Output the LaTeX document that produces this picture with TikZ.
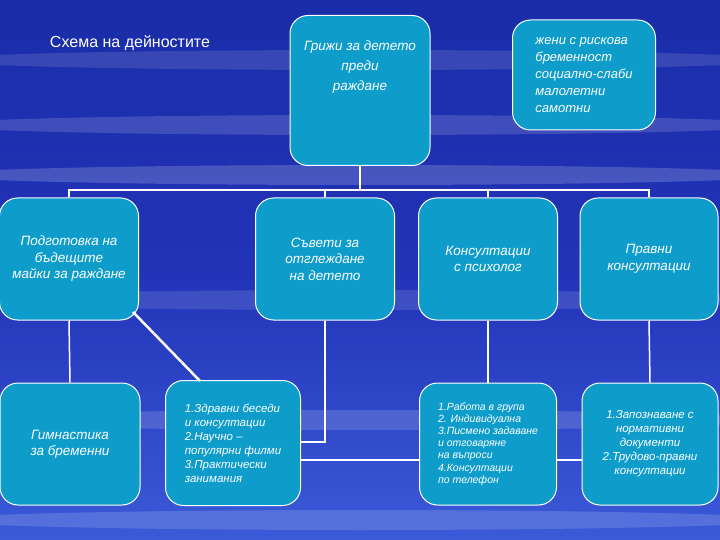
\documentclass[tikz,border=0pt]{standalone}
\usepackage{fontspec}
\setmainfont{Liberation Sans}
\definecolor{boxc}{HTML}{0E9CCB}
\definecolor{bgt}{HTML}{1A2DA8}
\definecolor{bgm}{HTML}{2233B8}
\definecolor{bgb}{HTML}{3A5AD8}
\begin{document}
\begin{tikzpicture}[x=1pt,y=-1pt,
 bx/.style={draw=white,line width=1pt,fill=boxc,rounded corners=18pt,text=white,font=\itshape\fontsize{13.5}{16.5}\selectfont,align=center,inner sep=2pt},
 ln/.style={draw=white,line width=1.5pt}]
\shade[top color=bgt,bottom color=bgb,middle color=bgm] (0,0) rectangle (720,540);
\useasboundingbox (0,0) rectangle (720,540);
\foreach \y/\o in {60/0.12,125/0.15,175/0.18,300/0.12,420/0.15,520/0.15}{\fill[white,opacity=\o] (360,\y) ellipse (420 and 10);}
\node[text=white,font=\fontsize{16}{18}\selectfont] (title) at (130,43) {Схема на дейностите};
\node[bx,minimum width=140,minimum height=150,anchor=north] (top) at (360,15) {};
\node[bx,draw=none,fill=none,align=center,font=\itshape\fontsize{13.5}{20}\selectfont] (toptext) at (360,67) {Грижи за детето\\преди\\раждане};
\node[bx,minimum width=143,minimum height=110,align=left,font=\itshape\fontsize{13}{17}\selectfont] (risk) at (584,75) {жени с рискова\\бременност\\социално-слаби\\малолетни\\самотни};
\node[bx,minimum width=139,minimum height=122] (a) at (69,259) {Подготовка на\\бъдещите\\майки за раждане};
\node[bx,minimum width=139,minimum height=122] (b) at (325,259) {Съвети за\\отглеждане\\на детето};
\node[bx,minimum width=139,minimum height=122] (c) at (488,259) {Консултации\\с психолог};
\node[bx,minimum width=138,minimum height=122] (d) at (649,259) {Правни\\консултации};
\node[bx,minimum width=140,minimum height=122] (a2) at (70,444) {Гимнастика\\за бременни};
\node[bx,minimum width=135,minimum height=125,align=left,font=\itshape\fontsize{11.5}{14}\selectfont] (b2) at (233,443) {1.Здравни беседи\\ и консултации\\2.Научно –\\популярни филми\\3.Практически\\занимания};
\node[bx,minimum width=137,minimum height=122,align=left,font=\itshape\fontsize{10.5}{12.2}\selectfont] (c2) at (488,444) {1.Работа в група\\2. Индивидуална\\3.Писмено задаване\\и отговаряне\\на въпроси\\4.Консултации\\по телефон};
\node[bx,minimum width=136,minimum height=122,font=\itshape\fontsize{11.5}{14}\selectfont] (d2) at (650,444) {1.Запознаване с\\нормативни\\документи\\2.Трудово-правни\\консултации};
\coordinate (j) at (360,190);
\draw[ln] (top.south) -- (j);
\draw[ln] (a.north) |- (j) -| (d.north);
\draw[ln] (b.north) -- (b.north|-j);
\draw[ln] (c.north) -- (c.north|-j);
\draw[ln] (a.south) -- (a2.north);
\draw[ln,line width=2.5pt] (133,312) -- (200,381);
\draw[ln] (b.south) |- (b2.east|-0,442);
\draw[ln,line width=2.5pt] (b2.east|-0,460) -- (c2.west|-0,460);
\draw[ln,line width=2.5pt] (c2.east|-0,460) -- (d2.west|-0,460);
\draw[ln] (c.south) -- (c2.north);
\draw[ln] (d.south) -- (d2.north);
\end{tikzpicture}
\end{document}
